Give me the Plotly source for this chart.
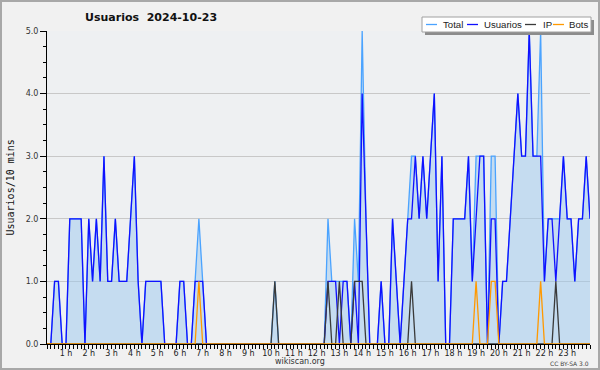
import plotly.graph_objects as go

# ---- data (one value per 10-minute slot, 00:10 .. 24:00) ----
usuarios = [0, 0, 1, 1, 0, 0, 2, 2, 2, 2, 0, 2, 1, 2, 1, 3, 1, 1, 2, 1,
            1, 1, 2, 3, 1, 0, 1, 1, 1, 1, 1, 0, 0, 0, 0, 1, 1, 0, 0, 1,
            1, 1, 0, 0, 0, 0, 0, 0, 0, 0, 0, 0, 0, 0, 0, 0, 0, 0, 0, 0,
            0, 0, 0, 0, 0, 0, 0, 0, 0, 0, 0, 0, 0, 0, 1, 1, 1, 0, 1, 1,
            0, 1, 0, 4, 2, 0, 0, 0, 1, 0, 0, 2, 1, 0, 1, 2, 2, 3, 2, 3,
            2, 3, 4, 1, 3, 0, 0, 2, 2, 2, 2, 3, 1, 2, 3, 3, 0, 2, 2, 0,
            1, 1, 2, 3, 4, 3, 3, 5, 3, 3, 3, 1, 2, 2, 1, 2, 3, 2, 2, 1,
            2, 2, 3, 2]
ip = [0] * 144
for k in (60, 74, 77, 81, 82, 83, 96, 134):
    ip[k] = 1
bots = [0] * 144
for k in (40, 113, 117, 118, 130):
    bots[k] = 1
total = list(usuarios)
total_overrides = {40: 2, 60: 1, 74: 2, 77: 1, 81: 2, 82: 1, 83: 5, 96: 3,
                   113: 3, 117: 3, 118: 3, 130: 5, 134: 2}
for k, v in total_overrides.items():
    total[k] = v

times = [(i + 1) / 6 for i in range(144)]          # hours
hour_ticks = list(range(1, 24))
hour_labels = [f"{h} h" for h in hour_ticks]

# ---- geometry helpers (pixel -> paper) ----
W, H = 600, 370
ML, MR, MT, MB = 47, 10, 31, 26
PW, PH = W - ML - MR, H - MT - MB


def px(x):
    return (x - ML) / PW


def py(y):
    return (H - MB - y) / PH


C_TOTAL = "#4aa3ff"
C_USER = "#1010ff"
C_IP = "#3a3a3a"
C_BOTS = "#ff9900"

fig = go.Figure()
fig.add_trace(go.Scatter(x=times, y=total, mode="lines", name="Total",
                         line=dict(color=C_TOTAL, width=1.3),
                         fill="tozeroy", fillcolor="rgba(156,200,238,0.5)"))
fig.add_trace(go.Scatter(x=times, y=usuarios, mode="lines", name="Usuarios",
                         line=dict(color=C_USER, width=1.3)))
fig.add_trace(go.Scatter(x=times, y=ip, mode="lines", name="IP",
                         line=dict(color=C_IP, width=1.3)))
fig.add_trace(go.Scatter(x=times, y=bots, mode="lines", name="Bots",
                         line=dict(color=C_BOTS, width=1.3)))

shapes = [
    # outer frame
    dict(type="rect", xref="paper", yref="paper", layer="above",
         x0=px(1), x1=px(599), y0=py(369), y1=py(1),
         line=dict(color="#a8a8a8", width=2), fillcolor="rgba(0,0,0,0)"),
    # legend shadow
    dict(type="rect", xref="paper", yref="paper", layer="above",
         x0=px(425), x1=px(594), y0=py(35), y1=py(20),
         line=dict(width=0), fillcolor="#8c8c8c"),
    # legend box
    dict(type="rect", xref="paper", yref="paper", layer="above",
         x0=px(422), x1=px(591), y0=py(32), y1=py(17),
         line=dict(color="#a0a0a0", width=1), fillcolor="white"),
]
annotations = []
legend_items = [("Total", C_TOTAL, 426, 441), ("Usuarios", C_USER, 467, 482),
                ("IP", C_IP, 525, 541), ("Bots", C_BOTS, 553, 567)]
for name, col, lx, tx in legend_items:
    shapes.append(dict(type="line", xref="paper", yref="paper", layer="above",
                       x0=px(lx), x1=px(lx + 11), y0=py(24.5), y1=py(24.5),
                       line=dict(color=col, width=1.3)))
    annotations.append(dict(text=name, xref="paper", yref="paper",
                            x=px(tx), y=py(24.5), xanchor="left",
                            yanchor="middle", showarrow=False,
                            font=dict(family="Liberation Sans", size=9.6,
                                      color="#222")))

annotations += [
    dict(text="Usuarios/10 mins", xref="paper", yref="paper", x=px(10),
         y=0.5, textangle=-90, xanchor="center", yanchor="middle",
         showarrow=False,
         font=dict(family="DejaVu Sans Mono", size=10, color="#111")),
    dict(text="wikiscan.org", xref="paper", yref="paper", x=px(300),
         y=py(361), xanchor="center", yanchor="middle", showarrow=False,
         font=dict(family="DejaVu Sans", size=8, color="#333")),
    dict(text="CC BY-SA 3.0", xref="paper", yref="paper", x=px(591),
         y=py(363), xanchor="right", yanchor="middle", showarrow=False,
         font=dict(family="DejaVu Sans", size=6, color="#444")),
]

fig.update_layout(
    width=W, height=H,
    margin=dict(l=ML, r=MR, t=MT, b=MB, pad=0),
    paper_bgcolor="#f1f1f1", plot_bgcolor="#eef0f2",
    showlegend=False, hovermode=False,
    title=dict(text="Usuarios\u00a0\u00a02024-10-23", xref="container",
               yref="container", x=85 / W, xanchor="left",
               y=1 - 17 / H, yanchor="middle",
               font=dict(family="DejaVu Sans", size=11, color="#111",
                         weight="bold")),
    xaxis=dict(range=[1 / 6, 24], tickmode="array", tickvals=hour_ticks,
               ticktext=hour_labels, ticks="outside", ticklen=4,
               tickcolor="black", showline=True, linecolor="black",
               linewidth=1, showgrid=False, zeroline=False,
               layer="above traces", ticklabelstandoff=-3,
               tickfont=dict(family="DejaVu Sans", size=8, color="#222"),
               minor=dict(tickmode="linear", tick0=0, dtick=1 / 6,
                          ticks="outside", ticklen=4, tickcolor="black",
                          showgrid=False)),
    yaxis=dict(range=[0, 5], tickmode="linear", tick0=0, dtick=1,
               tickformat=".1f", ticks="outside", ticklen=6,
               tickcolor="black", showline=True, linecolor="black",
               linewidth=1, showgrid=True, gridcolor="#c8c8c8",
               gridwidth=1, zeroline=False, layer="above traces",
               tickfont=dict(family="DejaVu Sans", size=8, color="#333"),
               minor=dict(tickmode="linear", tick0=0, dtick=0.25,
                          ticks="outside", ticklen=3, tickcolor="black",
                          showgrid=False)),
    shapes=shapes, annotations=annotations,
)

fig.write_html("out.html", config={"displayModeBar": False},
               post_script="document.body.style.margin='0px';"
                           "document.body.style.overflow='hidden';")
